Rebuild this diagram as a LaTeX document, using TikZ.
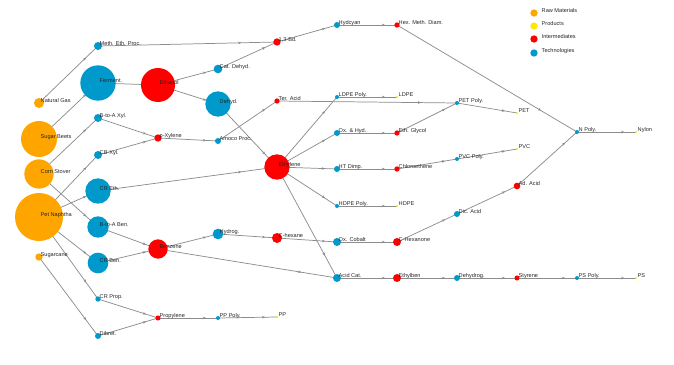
\documentclass[tikz,border=0pt]{standalone}
\usepackage{fontspec}
\setmainfont{Liberation Sans}
\usepackage{xcolor}
\definecolor{rawor}{RGB}{255,165,0}
\definecolor{prodyl}{RGB}{255,232,0}
\definecolor{intred}{RGB}{255,0,0}
\definecolor{techbl}{RGB}{0,153,204}
\definecolor{linkgr}{RGB}{140,140,140}
\usepackage{tikz}
\usetikzlibrary{arrows.meta,decorations.markings,backgrounds}

\begin{document}
\begin{tikzpicture}[x=0.75pt, y=-0.75pt,
  every node/.style={font=\fontsize{4.2}{5}\selectfont},
  dot/.style={circle, inner sep=0pt, draw=none},
  rawmat/.style={dot, fill=rawor},
  prod/.style={dot, fill=prodyl},
  inter/.style={dot, fill=intred},
  tech/.style={dot, fill=techbl},
  txt/.style={anchor=base west, xshift=1.1pt, yshift=0.7pt, text=black!85, inner sep=0pt},
  legtxt/.style={txt, xshift=4.5pt},
  link/.style={draw=linkgr, line width=0.55pt, postaction={decorate},
    decoration={markings, mark=at position 0.8 with {\arrow{Stealth[length=2.3pt,width=2pt]}}}}]
  \useasboundingbox (0,0) rectangle (674,364);

  % raw materials
  \node[rawmat, minimum size=7.5pt] (natgas) at (39,103) {};  \node[txt] (natgas-t) at (natgas.center) {Natural Gas};
  \node[rawmat, minimum size=27pt] (sbeet) at (39,139) {};    \node[txt] (sbeet-t) at (sbeet.center) {Sugar Beets};
  \node[rawmat, minimum size=22pt] (corn) at (39,174) {};     \node[txt] (corn-t) at (corn.center) {Corn Stover};
  \node[rawmat, minimum size=36pt] (naph) at (39,217) {};     \node[txt] (naph-t) at (naph.center) {Pet Naphtha};
  \node[rawmat, minimum size=5.5pt] (scane) at (39,257) {};   \node[txt] (scane-t) at (scane.center) {Sugarcane};

  % first technologies
  \node[tech, minimum size=6pt] (meth) at (98,46) {};       \node[txt] (meth-t) at (meth.center) {Meth. Eth. Proc.};
  \node[tech, minimum size=26.5pt] (ferm) at (98,83) {};    \node[txt] (ferm-t) at (ferm.center) {Ferment.};
  \node[tech, minimum size=6pt] (bxyl) at (98,118) {};      \node[txt] (bxyl-t) at (bxyl.center) {B-to-A Xyl.};
  \node[tech, minimum size=6pt] (cbxyl) at (98,155) {};     \node[txt] (cbxyl-t) at (cbxyl.center) {CB-Xyl.};
  \node[tech, minimum size=19pt] (creth) at (98,191) {};    \node[txt] (creth-t) at (creth.center) {CR Eth.};
  \node[tech, minimum size=16pt] (bben) at (98,227) {};     \node[txt] (bben-t) at (bben.center) {B-to-A Ben.};
  \node[tech, minimum size=15.5pt] (crben) at (98,263) {};  \node[txt] (crben-t) at (crben.center) {CR Ben.};
  \node[tech, minimum size=4pt] (crprop) at (98,299) {};    \node[txt] (crprop-t) at (crprop.center) {CR Prop.};
  \node[tech, minimum size=4.5pt] (dibret) at (98,336) {};  \node[txt] (dibret-t) at (dibret.center) {Dibret.};

  \node[inter, minimum size=25.5pt] (ethanol) at (158,85) {}; \node[txt] (ethanol-t) at (ethanol.center) {Ethanol};
  \node[inter, minimum size=5.5pt] (pxyl) at (158,138) {};    \node[txt] (pxyl-t) at (pxyl.center) {p-Xylene};
  \node[inter, minimum size=14.5pt] (benz) at (158,249) {};   \node[txt] (benz-t) at (benz.center) {Benzene};
  \node[inter, minimum size=3.8pt] (prop) at (158,318) {};    \node[txt] (prop-t) at (prop.center) {Propylene};

  \node[tech, minimum size=6.5pt] (catdh) at (218,69) {};   \node[txt] (catdh-t) at (catdh.center) {Cat. Dehyd.};
  \node[tech, minimum size=19pt] (dehyd) at (218,104) {};   \node[txt] (dehyd-t) at (dehyd.center) {Dehyd.};
  \node[tech, minimum size=4.5pt] (amoco) at (218,141) {};  \node[txt] (amoco-t) at (amoco.center) {Amoco Proc.};
  \node[tech, minimum size=8pt] (hydrog) at (218,234) {};   \node[txt] (hydrog-t) at (hydrog.center) {Hydrog.};
  \node[tech, minimum size=3pt] (ppoly) at (218,318) {};    \node[txt] (ppoly-t) at (ppoly.center) {PP Poly.};

  \node[inter, minimum size=5.5pt] (bd) at (277,42) {};     \node[txt] (bd-t) at (bd.center) {1,3-Bd.};
  \node[inter, minimum size=4pt] (tacid) at (277,101) {};   \node[txt] (tacid-t) at (tacid.center) {Ter. Acid};
  \node[inter, minimum size=19pt] (ethyl) at (277,167) {};  \node[txt] (ethyl-t) at (ethyl.center) {Ethylene};
  \node[inter, minimum size=7.5pt] (chex) at (277,238) {};  \node[txt] (chex-t) at (chex.center) {C-hexane};
  \node[prod, minimum size=1.8pt] (pp) at (277,317) {};     \node[txt] (pp-t) at (pp.center) {PP};

  \node[tech, minimum size=4.5pt] (hcyan) at (337,25) {};   \node[txt] (hcyan-t) at (hcyan.center) {Hydcyan};
  \node[tech, minimum size=3pt] (ldpep) at (337,97) {};     \node[txt] (ldpep-t) at (ldpep.center) {LDPE Poly.};
  \node[tech, minimum size=4.5pt] (oxhyd) at (337,133) {};  \node[txt] (oxhyd-t) at (oxhyd.center) {Ox. \& Hyd.};
  \node[tech, minimum size=4.5pt] (htd) at (337,169) {};    \node[txt] (htd-t) at (htd.center) {HT Dimp.};
  \node[tech, minimum size=3pt] (hdpep) at (337,206) {};    \node[txt] (hdpep-t) at (hdpep.center) {HDPE Poly.};
  \node[tech, minimum size=6pt] (oxcob) at (337,242) {};    \node[txt] (oxcob-t) at (oxcob.center) {Ox. Cobalt};
  \node[tech, minimum size=6pt] (acat) at (337,278) {};     \node[txt] (acat-t) at (acat.center) {Acid Cat.};

  \node[inter, minimum size=4pt] (hmd) at (397,25) {};      \node[txt] (hmd-t) at (hmd.center) {Hex. Meth. Diam.};
  \node[prod, minimum size=1.6pt] (ldpe) at (397,97) {};    \node[txt] (ldpe-t) at (ldpe.center) {LDPE};
  \node[inter, minimum size=4pt] (eglyc) at (397,133) {};   \node[txt] (eglyc-t) at (eglyc.center) {Eth. Glycol};
  \node[inter, minimum size=4pt] (chlor) at (397,169) {};   \node[txt] (chlor-t) at (chlor.center) {Chloroethene};
  \node[prod, minimum size=1.6pt] (hdpe) at (397,206) {};   \node[txt] (hdpe-t) at (hdpe.center) {HDPE};
  \node[inter, minimum size=6pt] (chexo) at (397,242) {};   \node[txt] (chexo-t) at (chexo.center) {C-Hexanone};
  \node[inter, minimum size=6pt] (ebz) at (397,278) {};     \node[txt] (ebz-t) at (ebz.center) {Ethylben};

  \node[tech, minimum size=3pt] (petp) at (457,103) {};     \node[txt] (petp-t) at (petp.center) {PET Poly.};
  \node[tech, minimum size=3pt] (pvcp) at (457,159) {};     \node[txt] (pvcp-t) at (pvcp.center) {PVC Poly.};
  \node[tech, minimum size=4.5pt] (dacid) at (457,214) {};  \node[txt] (dacid-t) at (dacid.center) {Dic. Acid};
  \node[tech, minimum size=4.5pt] (dehydrog) at (457,278) {}; \node[txt] (dehydrog-t) at (dehydrog.center) {Dehydrog.};

  \node[prod, minimum size=1.6pt] (pet) at (517,113) {};    \node[txt] (pet-t) at (pet.center) {PET};
  \node[prod, minimum size=1.6pt] (pvc) at (517,149) {};    \node[txt] (pvc-t) at (pvc.center) {PVC};
  \node[inter, minimum size=5pt] (adacid) at (517,186) {};  \node[txt] (adacid-t) at (adacid.center) {Ad. Acid};
  \node[inter, minimum size=3.8pt] (styr) at (517,278) {};  \node[txt] (styr-t) at (styr.center) {Styrene};

  \node[tech, minimum size=3pt] (npoly) at (577,132) {};    \node[txt] (npoly-t) at (npoly.center) {N Poly.};
  \node[tech, minimum size=3pt] (psp) at (577,278) {};      \node[txt] (psp-t) at (psp.center) {PS Poly.};
  \node[prod, minimum size=1.6pt] (nylon) at (636,132) {};  \node[txt] (nylon-t) at (nylon.center) {Nylon};
  \node[prod, minimum size=1.6pt] (ps) at (636,278) {};     \node[txt] (ps-t) at (ps.center) {PS};

  % legend
  \node[rawmat, minimum size=5.5pt] (legraw) at (534,13) {};   \node[legtxt] (legraw-t) at (legraw.center) {Raw Materials};
  \node[prod, minimum size=5.5pt] (legprod) at (534,26) {};    \node[legtxt] (legprod-t) at (legprod.center) {Products};
  \node[inter, minimum size=5.5pt] (leginter) at (534,39) {};  \node[legtxt] (leginter-t) at (leginter.center) {Intermediates};
  \node[tech, minimum size=5.5pt] (legtech) at (534,53) {};    \node[legtxt] (legtech-t) at (legtech.center) {Technologies};

  \begin{pgfonlayer}{background}
    \draw[link] (natgas.center) -- (meth.center);
    \draw[link] (meth.center) -- (bd.center);
    \draw[link] (sbeet.center) -- (ferm.center);
    \draw[link] (ferm.center) -- (ethanol.center);
    \draw[link] (ethanol.center) -- (catdh.center);
    \draw[link] (ethanol.center) -- (dehyd.center);
    \draw[link] (catdh.center) -- (bd.center);
    \draw[link] (bd.center) -- (hcyan.center);
    \draw[link] (hcyan.center) -- (hmd.center);
    \draw[link] (hmd.center) -- (npoly.center);
    \draw[link] (dehyd.center) -- (ethyl.center);
    \draw[link] (corn.center) -- (bxyl.center);
    \draw[link] (naph.center) -- (cbxyl.center);
    \draw[link] (bxyl.center) -- (pxyl.center);
    \draw[link] (cbxyl.center) -- (pxyl.center);
    \draw[link] (pxyl.center) -- (amoco.center);
    \draw[link] (amoco.center) -- (tacid.center);
    \draw[link] (tacid.center) -- (petp.center);
    \draw[link] (naph.center) -- (creth.center);
    \draw[link] (creth.center) -- (ethyl.center);
    \draw[link] (ethyl.center) -- (ldpep.center);
    \draw[link] (ethyl.center) -- (oxhyd.center);
    \draw[link] (ethyl.center) -- (htd.center);
    \draw[link] (ethyl.center) -- (hdpep.center);
    \draw[link] (ethyl.center) -- (acat.center);
    \draw[link] (ldpep.center) -- (ldpe.center);
    \draw[link] (oxhyd.center) -- (eglyc.center);
    \draw[link] (eglyc.center) -- (petp.center);
    \draw[link] (petp.center) -- (pet.center);
    \draw[link] (htd.center) -- (chlor.center);
    \draw[link] (chlor.center) -- (pvcp.center);
    \draw[link] (pvcp.center) -- (pvc.center);
    \draw[link] (hdpep.center) -- (hdpe.center);
    \draw[link] (corn.center) -- (bben.center);
    \draw[link] (naph.center) -- (crben.center);
    \draw[link] (bben.center) -- (benz.center);
    \draw[link] (crben.center) -- (benz.center);
    \draw[link] (benz.center) -- (hydrog.center);
    \draw[link] (hydrog.center) -- (chex.center);
    \draw[link] (chex.center) -- (oxcob.center);
    \draw[link] (oxcob.center) -- (chexo.center);
    \draw[link] (chexo.center) -- (dacid.center);
    \draw[link] (dacid.center) -- (adacid.center);
    \draw[link] (adacid.center) -- (npoly.center);
    \draw[link] (npoly.center) -- (nylon.center);
    \draw[link] (benz.center) -- (acat.center);
    \draw[link] (acat.center) -- (ebz.center);
    \draw[link] (ebz.center) -- (dehydrog.center);
    \draw[link] (dehydrog.center) -- (styr.center);
    \draw[link] (styr.center) -- (psp.center);
    \draw[link] (psp.center) -- (ps.center);
    \draw[link] (naph.center) -- (crprop.center);
    \draw[link] (scane.center) -- (dibret.center);
    \draw[link] (crprop.center) -- (prop.center);
    \draw[link] (dibret.center) -- (prop.center);
    \draw[link] (prop.center) -- (ppoly.center);
    \draw[link] (ppoly.center) -- (pp.center);
  \end{pgfonlayer}
\end{tikzpicture}
\end{document}
